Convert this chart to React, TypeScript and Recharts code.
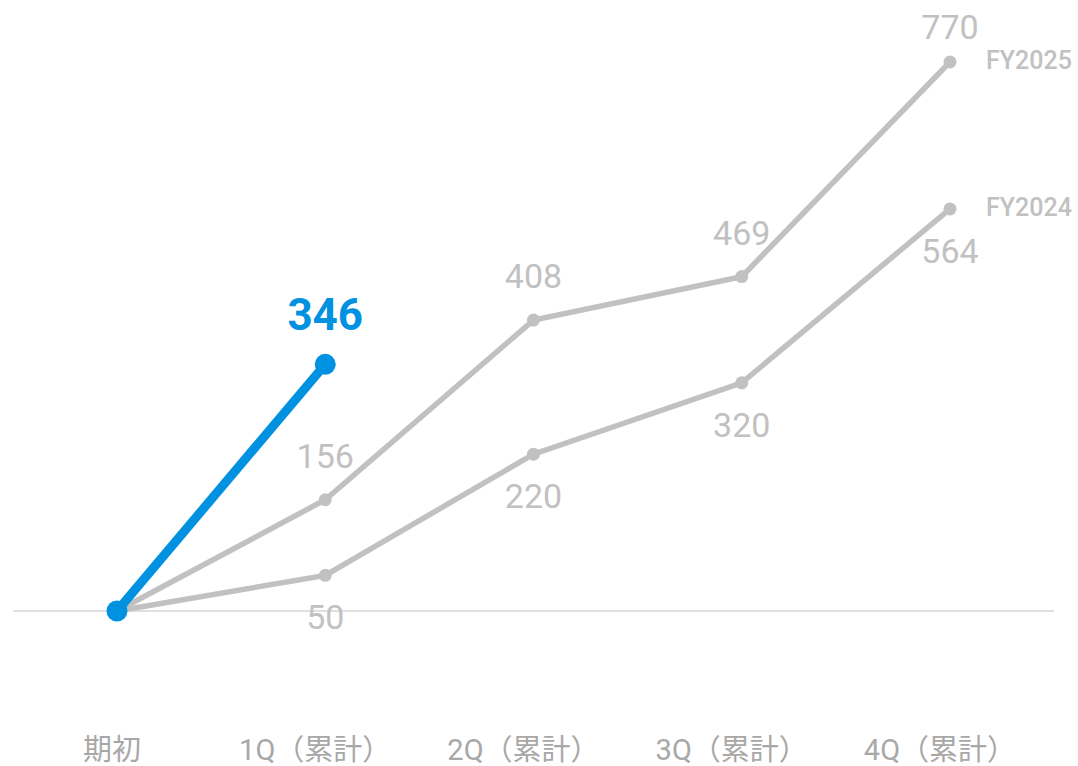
import { LineChart, Line, XAxis, YAxis, ReferenceLine, LabelList } from "recharts";

const PERIODS = ["期初", "1Q（累計）", "2Q（累計）", "3Q（累計）", "4Q（累計）"];
const FY2024 = [0, 50, 220, 320, 564];
const FY2025 = [0, 156, 408, 469, 770];
const FY2026 = [0, 346];

const GRAY = "#c1c1c1";
const BLUE = "#0092e1";
const FONT = "Roboto, 'Noto Sans CJK JP', sans-serif";

const data = PERIODS.map((name, i) => ({
  name,
  fy2024: FY2024[i],
  fy2025: FY2025[i],
  fy2026: FY2026[i] ?? null,
}));

function grayLabel(series: string, below: boolean) {
  return (props: any) => {
    const x = props.x ?? props.viewBox?.x;
    const y = props.y ?? props.viewBox?.y;
    const { value, index } = props;
    if (index === 0 || value == null) return null;
    const ty = below ? y + 54 : Math.max(y - 32, 39);
    return (
      <g>
        <text x={x} y={ty} textAnchor="middle" fill={GRAY} fontSize={34} fontFamily={FONT}>
          {value}
        </text>
        {index === PERIODS.length - 1 && (
          <text x={x + 36} y={y + 7} fill={GRAY} fontSize={25} fontWeight={500} fontFamily={FONT}>
            {series}
          </text>
        )}
      </g>
    );
  };
}

function blueLabel(props: any) {
  const x = props.x ?? props.viewBox?.x;
  const y = props.y ?? props.viewBox?.y;
  const { value, index } = props;
  if (index === 0 || value == null) return null;
  return (
    <text x={x} y={y - 34} textAnchor="middle" fill={BLUE} fontSize={44} fontWeight={700} fontFamily={FONT}>
      {value}
    </text>
  );
}

function PeriodTick({ x, y, payload, index }: any) {
  const dx = index === 0 ? -5 : -10;
  return (
    <text x={x + dx} y={y + 141} textAnchor="middle" fill="#a8a8a8" fontSize={29} fontFamily={FONT}>
      {payload.value}
    </text>
  );
}

export default function App() {
  return (
    <div style={{ position: "absolute", left: 0, top: 0, background: "#fff" }}>
      <LineChart width={1078} height={766} data={data} margin={{ top: 62, right: 24, bottom: 0, left: 13 }}>
        <XAxis
          dataKey="name"
          padding={{ left: 104, right: 104 }}
          axisLine={false}
          tickLine={false}
          interval={0}
          height={155}
          tick={<PeriodTick />}
        />
        <YAxis hide domain={[0, 770]} />
        <ReferenceLine y={0} stroke="#d6d6d6" strokeWidth={1.5} />
        <Line
          dataKey="fy2024"
          stroke={GRAY}
          strokeWidth={5.5}
          dot={{ r: 6.5, fill: GRAY, stroke: "none" }}
          activeDot={false}
          isAnimationActive={false}
        >
          <LabelList dataKey="fy2024" content={grayLabel("FY2024", true)} />
        </Line>
        <Line
          dataKey="fy2025"
          stroke={GRAY}
          strokeWidth={5.5}
          dot={{ r: 6.5, fill: GRAY, stroke: "none" }}
          activeDot={false}
          isAnimationActive={false}
        >
          <LabelList dataKey="fy2025" content={grayLabel("FY2025", false)} />
        </Line>
        <Line
          dataKey="fy2026"
          stroke={BLUE}
          strokeWidth={9}
          dot={{ r: 10.5, fill: BLUE, stroke: "none" }}
          activeDot={false}
          connectNulls={false}
          isAnimationActive={false}
        >
          <LabelList dataKey="fy2026" content={blueLabel} />
        </Line>
      </LineChart>
    </div>
  );
}
